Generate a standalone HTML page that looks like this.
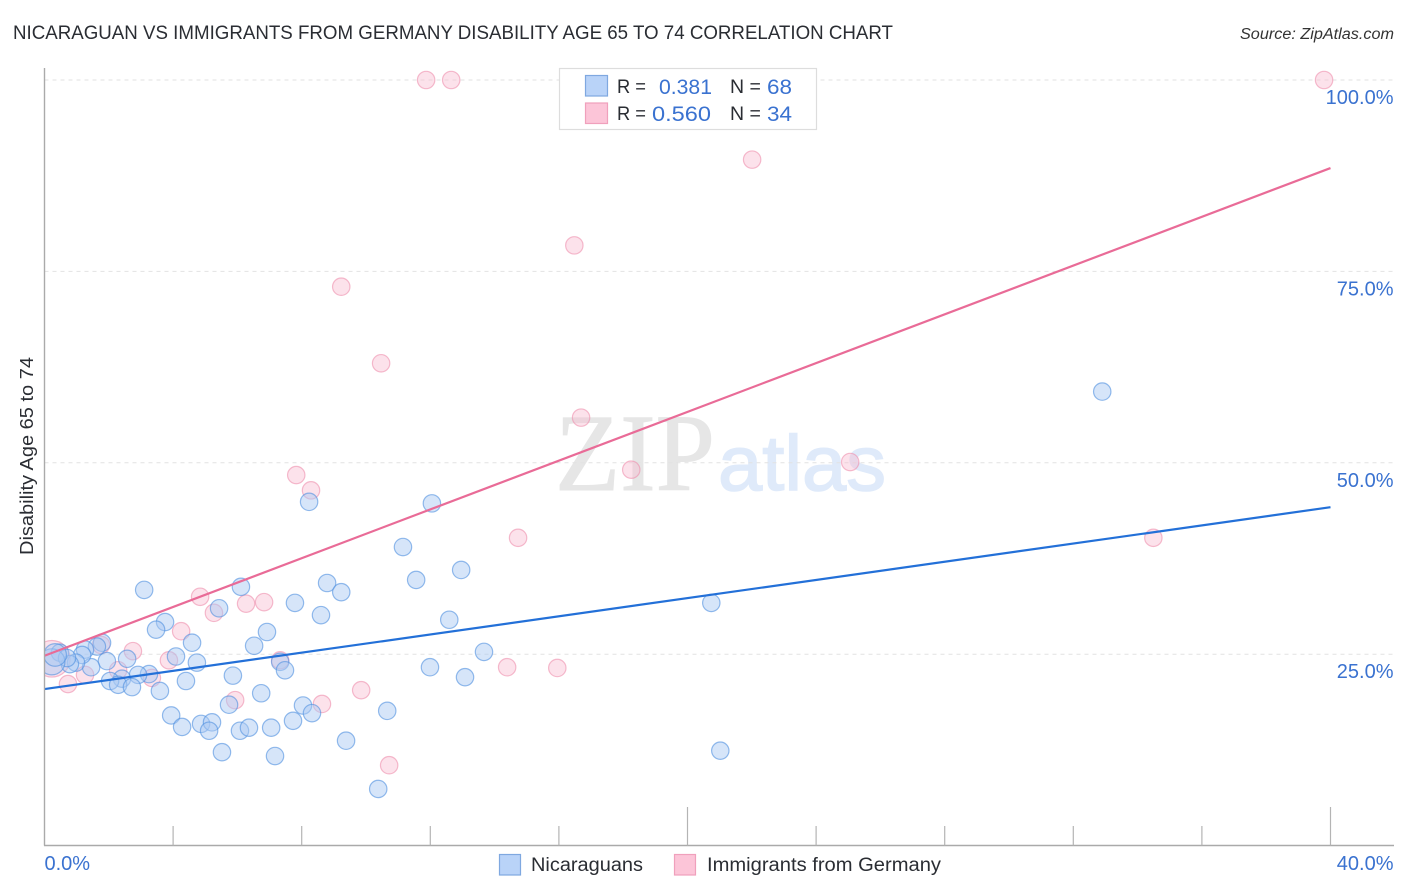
<!DOCTYPE html>
<html lang="en">
<head>
<meta charset="utf-8">
<title>Nicaraguan vs Immigrants from Germany Disability Age 65 to 74 Correlation Chart</title>
<style>
html,body{margin:0;padding:0;background:#fff;}
svg{display:block;font-family:"Liberation Sans",sans-serif;}
</style>
</head>
<body>
<svg id="chart" xmlns="http://www.w3.org/2000/svg" width="1406" height="892" viewBox="0 0 1406 892">
  <defs><clipPath id="plot-clip"><rect x="44.5" y="60" width="1350" height="785"/></clipPath></defs>
  <rect x="0" y="0" width="1406" height="892" fill="#fff"/>
  <text x="13" y="39" font-size="19.5" fill="#2a2d33" textLength="880" lengthAdjust="spacingAndGlyphs">NICARAGUAN VS IMMIGRANTS FROM GERMANY DISABILITY AGE 65 TO 74 CORRELATION CHART</text>
  <text x="1394" y="39" font-size="15.5" font-style="italic" fill="#333" text-anchor="end" textLength="154" lengthAdjust="spacingAndGlyphs">Source: ZipAtlas.com</text>
  <g>
    <text x="555" y="490" font-family="'Liberation Serif',serif" font-size="110" fill="#e6e6e6" stroke="#e6e6e6" stroke-width="1" textLength="160" lengthAdjust="spacingAndGlyphs">ZIP</text>
    <text x="718" y="490" font-size="78" fill="#dfeafa" stroke="#dfeafa" stroke-width="1.5" textLength="168" lengthAdjust="spacingAndGlyphs">atlas</text>
  </g>
  <g id="grid"></g>
  <g id="pink-points" clip-path="url(#plot-clip)"></g>
  <g id="blue-points" clip-path="url(#plot-clip)"></g>
  <g id="trends"></g>
  <g id="axes"></g>
  <text transform="translate(33,456) rotate(-90)" font-size="18" fill="#2a2d33" text-anchor="middle" textLength="198" lengthAdjust="spacingAndGlyphs">Disability Age 65 to 74</text>

  <g>
    <rect x="559.5" y="68.5" width="257" height="61" fill="#fff" stroke="#ddd" stroke-width="1.2"/>
    <rect x="585.5" y="75.5" width="22" height="20.5" fill="#b9d3f8" stroke="#7fa8e0" stroke-width="1.2"/>
    <rect x="585.5" y="103" width="22" height="20.5" fill="#fcc5d8" stroke="#f0a0bc" stroke-width="1.2"/>
    <text x="617" y="93" font-size="19.5" fill="#2a2d33" textLength="29" lengthAdjust="spacingAndGlyphs">R =</text>
    <text x="659" y="94" font-size="21" fill="#3a72d0" textLength="53" lengthAdjust="spacingAndGlyphs">0.381</text>
    <text x="730" y="93" font-size="19.5" fill="#2a2d33">N =</text>
    <text x="767" y="94" font-size="21" fill="#3a72d0" textLength="25" lengthAdjust="spacingAndGlyphs">68</text>
    <text x="617" y="120" font-size="19.5" fill="#2a2d33" textLength="29" lengthAdjust="spacingAndGlyphs">R =</text>
    <text x="652" y="121" font-size="21" fill="#3a72d0" textLength="59" lengthAdjust="spacingAndGlyphs">0.560</text>
    <text x="730" y="120" font-size="19.5" fill="#2a2d33">N =</text>
    <text x="767" y="121" font-size="21" fill="#3a72d0" textLength="25" lengthAdjust="spacingAndGlyphs">34</text>
  </g>

  <g>
    <rect x="499.5" y="854.5" width="21" height="20.5" fill="#b9d3f8" stroke="#7fa8e0" stroke-width="1.2"/>
    <text x="531" y="871" font-size="19" fill="#2a2d33" textLength="112" lengthAdjust="spacingAndGlyphs">Nicaraguans</text>
    <rect x="674.5" y="854.5" width="21" height="20.5" fill="#fcc5d8" stroke="#f0a0bc" stroke-width="1.2"/>
    <text x="707" y="871" font-size="19" fill="#2a2d33" textLength="234" lengthAdjust="spacingAndGlyphs">Immigrants from Germany</text>
  </g>
</svg>
<script>
const nicaraguansX = [32.9,12.05,8.23,11.15,12.96,11.56,3.10,6.11,8.79,9.23,5.43,7.79,8.60,12.59,20.74,3.75,3.47,6.92,4.59,6.52,13.67,11.99,13.08,4.74,4.09,7.33,7.48,4.40,5.86,6.74,5.74,8.04,8.32,10.66,3.59,3.94,7.73,4.28,4.87,5.21,5.12,6.08,6.36,7.05,9.38,5.52,7.17,21.02,10.38,3.25,2.91,2.41,2.04,2.29,2.72,2.57,1.94,1.45,1.79,1.63,1.26,1.17,0.98,0.79,0.48,0.70,0.23,0.33];
const nicaraguansY = [59.3,44.7,44.9,39.0,36.0,34.7,33.4,33.8,34.3,33.1,31.0,31.7,30.1,29.5,31.7,29.2,28.2,27.9,26.5,26.1,25.3,23.3,22.0,23.9,24.7,24.0,22.9,21.5,22.2,19.9,18.4,18.3,17.3,17.6,20.2,17.0,16.3,15.5,15.9,16.1,15.0,15.0,15.4,15.4,13.7,12.2,11.7,12.4,7.4,22.4,22.3,21.8,21.5,21.0,20.7,24.4,24.1,23.3,26.5,26.0,25.6,24.9,23.9,23.7,25.2,24.5,24.0,24.9];
const nicaraguansWeight = [1,1,1,1,1,1,1,1,1,1,1,1,1,1,1,1,1,1,1,1,1,1,1,1,1,1,1,1,1,1,1,1,1,1,1,1,1,1,1,1,1,1,1,1,1,1,1,1,1,1,1,1,1,1,1,1,1,1,1,1,1,1,1,1,1,1,1.5,1.3];
const germanyX = [39.8,11.87,12.65,22.01,16.48,9.23,10.47,16.69,18.25,25.06,7.83,8.29,14.73,34.49,4.84,6.83,6.27,5.27,4.25,1.76,2.75,7.33,3.87,14.39,15.95,9.85,8.63,5.93,10.72,2.29,3.34,1.26,0.73,0.23];
const germanyY = [100,100,100,89.6,78.4,73.0,63.0,55.9,49.1,50.1,48.4,46.4,40.2,40.2,32.5,31.8,31.6,30.4,28.0,26.2,25.4,24.2,24.2,23.3,23.2,20.3,18.5,19.0,10.5,22.9,21.9,22.3,21.1,24.4];
const germanyWeight = [1,1,1,1,1,1,1,1,1,1,1,1,1,1,1,1,1,1,1,1,1,1,1,1,1,1,1,1,1,1,1,1,1,2.1];
const trendX = [0,40];
const nicaraguansTrend = [20.45,44.2];
const germanyTrend = [24.8,88.5];
const yTicks = [25,50,75,100];
const yTickLabels = ["25.0%","50.0%","75.0%","100.0%"];
const xTicks = [4,8,12,16,20,24,28,32,36,40];
const xMajorTicks = [20,40];
const xEndValues = [0,40];
const xEndLabels = ["0.0%","40.0%"];

const NS = "http://www.w3.org/2000/svg";
const sx = v => 44.5 + v * 32.15;
const sy = v => 845.6 - v * 7.656;
function mk(parent, tag, attrs) {
  const el = document.createElementNS(NS, tag);
  for (const k in attrs) el.setAttribute(k, attrs[k]);
  parent.appendChild(el);
  return el;
}
const grid = document.getElementById("grid");
const axes = document.getElementById("axes");
yTicks.forEach((t, i) => {
  const line = mk(grid, "line", {x1:44.5, x2:1394, y1:sy(t), y2:sy(t), stroke:"#e2e2e2", "stroke-width":1, "stroke-dasharray":"4 4"});
  
  
  const label = mk(axes, "text", {x:1393.5, y:sy(t)+24, "font-size":20, fill:"#3a72d0", "text-anchor":"end"});
  
  
  label.textContent = yTickLabels[i];
});
const pinkG = document.getElementById("pink-points");
germanyX.forEach((v, i) => {
  const c = mk(pinkG, "circle", {cx:sx(v), cy:sy(germanyY[i]), r:8.7*germanyWeight[i], fill:"#f9b9cf", "fill-opacity":0.42, stroke:"#ee8fae", "stroke-opacity":0.6, "stroke-width":1.2});
  
  
});
const blueG = document.getElementById("blue-points");
nicaraguansX.forEach((v, i) => {
  const c = mk(blueG, "circle", {cx:sx(v), cy:sy(nicaraguansY[i]), r:8.7*nicaraguansWeight[i], fill:"#a9c9f3", "fill-opacity":0.48, stroke:"#4f8fe0", "stroke-opacity":0.6, "stroke-width":1.2});
  
  
});
const trends = document.getElementById("trends");
const blueLine = mk(trends, "line", {x1:sx(trendX[0]), y1:sy(nicaraguansTrend[0]), x2:sx(trendX[1]), y2:sy(nicaraguansTrend[1]), stroke:"#2370d8", "stroke-width":2.2});


const pinkLine = mk(trends, "line", {x1:sx(trendX[0]), y1:sy(germanyTrend[0]), x2:sx(trendX[1]), y2:sy(germanyTrend[1]), stroke:"#e96b97", "stroke-width":2.2});



const yAxis = mk(axes, "line", {x1:44.5, x2:44.5, y1:68, y2:845.5, stroke:"#aaa", "stroke-width":1.4});


const xAxis = mk(axes, "line", {x1:44, x2:1394, y1:845.5, y2:845.5, stroke:"#aaa", "stroke-width":1.4});


xTicks.forEach(t => {
  const top = xMajorTicks.includes(t) ? 807 : 826;
  const tick = mk(axes, "line", {x1:sx(t), x2:sx(t), y1:top, y2:845.5, stroke:"#b4b4b4", "stroke-width":1.2});
  
  
});
xEndValues.forEach((t, i) => {
  const label = mk(axes, "text", {x: i === 0 ? sx(t) : 1393.5, y:870, "font-size":20, fill:"#3a72d0", "text-anchor": i === 0 ? "start" : "end"});
  
  
  label.textContent = xEndLabels[i];
});
</script>
</body>
</html>
